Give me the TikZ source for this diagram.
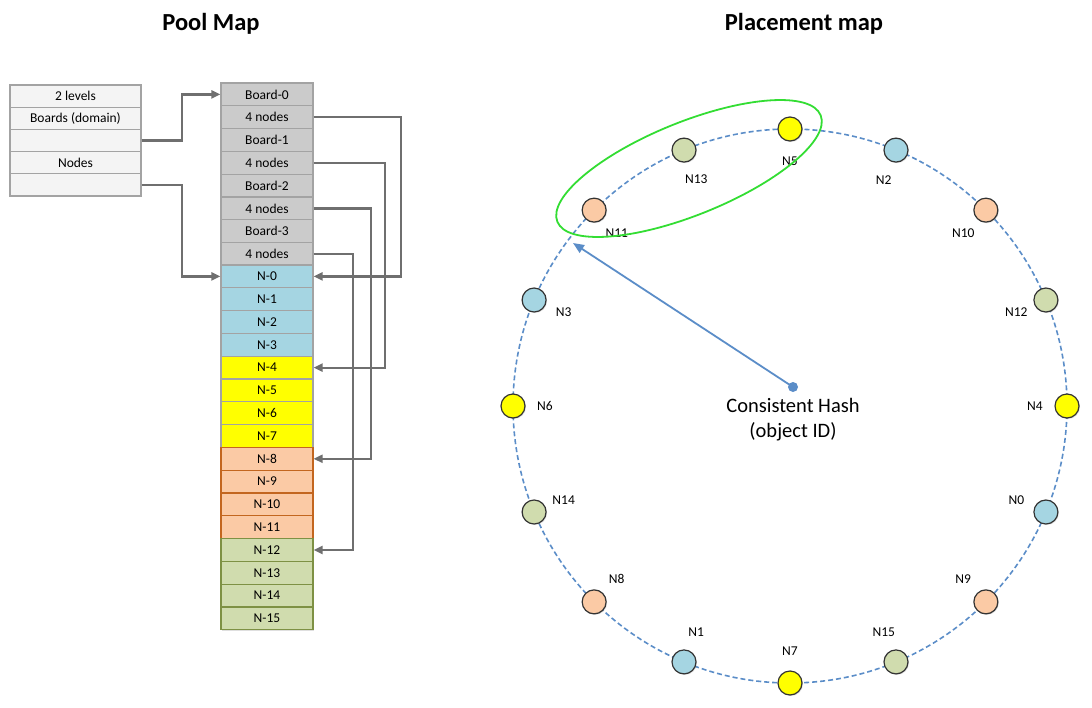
\documentclass[tikz,border=0pt]{standalone}
\usepackage{fontspec}
\setmainfont{Carlito}
\usetikzlibrary{arrows.meta,shadows}

\definecolor{cellline}{HTML}{A3A3A3}
\definecolor{cellgray}{HTML}{CBCBCB}
\definecolor{keyfill}{HTML}{F4F4F4}
\definecolor{nodeblue}{HTML}{A5D5E2}
\definecolor{nodeyellow}{HTML}{FFFF00}
\definecolor{nodeorange}{HTML}{FBCAA5}
\definecolor{nodegreen}{HTML}{D0DCAE}
\definecolor{orangeline}{HTML}{C3661F}
\definecolor{greenline}{HTML}{7E9144}
\definecolor{linkgray}{HTML}{6F6F6F}
\definecolor{ringblue}{HTML}{5B8DC8}
\definecolor{selgreen}{HTML}{33DD33}

\tikzset{
  cell/.style={draw=cellline, fill=#1, line width=1.2pt, minimum width=92pt,
    minimum height=22.8pt, inner sep=0pt, font=\fontsize{13.5}{15}\selectfont,
    drop shadow={shadow xshift=1.2pt, shadow yshift=-1.2pt, opacity=0.25}},
  keycell/.style={cell=keyfill, minimum width=131pt, minimum height=22.2pt},
  link/.style={draw=linkgray, line width=2.2pt, -{Triangle[length=9pt,width=8pt]}},
  ringnode/.style={circle, draw=black!80, fill=#1, line width=1.2pt,
    minimum size=24pt, inner sep=0pt,
    drop shadow={shadow xshift=1pt, shadow yshift=-1pt, opacity=0.25}},
  ringlabel/.style={font=\fontsize{13.5}{15}\selectfont, inner sep=0pt},
  title/.style={font=\fontsize{24.5}{28}\selectfont\bfseries}
}

\begin{document}
\begin{tikzpicture}[x=1pt, y=-1pt]
\useasboundingbox (0,0) rectangle (1092,707);

% titles
\node[title] (pooltitle) at (211,24) {Pool Map};
\node[title] (placetitle) at (804,24) {Placement map};

% pool map header
\node[keycell] (lvl) at (75.5,96.1) {2 levels};
\node[keycell] (dom) at (75.5,118.3) {Boards (domain)};
\node[keycell] (domptr) at (75.5,140.5) {};
\node[keycell] (nds) at (75.5,162.7) {Nodes};
\node[keycell] (ndsptr) at (75.5,184.9) {};

% boards
\foreach \i in {0,...,3} {
  \node[cell=cellgray] (brd\i) at (267,{94.4+45.6*\i}) {Board-\i};
  \node[cell=cellgray] (cnt\i) at (267,{117.2+45.6*\i}) {4 nodes};
}

% nodes
\foreach \col/\bdr [count=\g from 0] in {nodeblue/cellline, nodeyellow/cellline,
    nodeorange/orangeline, nodegreen/greenline} {
  \foreach \j in {0,...,3} {
    \pgfmathtruncatemacro\n{4*\g+\j}
    \node[cell=\col, draw=\bdr] (pn\n) at (267,{276.4+22.8*\n}) {N-\n};
  }
}

% pointers
\draw[link] (domptr.east) -- ++(40,0) |- (brd0.west);
\draw[link] (ndsptr.east) -- ++(40,0) |- (pn0.west);
\draw[link] (cnt0.east) -- ++(87,0) |- (pn0.east);
\draw[link] (cnt1.east) -- ++(71,0) |- (pn4.east);
\draw[link] (cnt2.east) -- ++(57,0) |- (pn8.east);
\draw[link] (cnt3.east) -- ++(39,0) |- (pn12.east);

% placement ring
\coordinate (hub) at (790,406);
\draw[ringblue, line width=1.6pt, dash pattern=on 5pt off 3pt] (hub) circle[radius=277];

\foreach \a/\n/\col in {90/5/nodeyellow, 112.5/13/nodegreen, 135/11/nodeorange,
    157.5/3/nodeblue, 180/6/nodeyellow, 202.5/14/nodegreen, 225/8/nodeorange,
    247.5/1/nodeblue, 270/7/nodeyellow, 292.5/15/nodegreen, 315/9/nodeorange,
    337.5/0/nodeblue, 0/4/nodeyellow, 22.5/12/nodegreen, 45/10/nodeorange,
    67.5/2/nodeblue} {
  \node[ringnode=\col] (rn\n) at ({790+277*cos(\a)},{406-277*sin(\a)}) {};
  \node[ringlabel] (rl\n) at ({790+245*cos(\a)},{406-245*sin(\a)}) {N\n};
}

% selected replicas
\draw[selgreen, line width=1.8pt, rotate around={22:(689,168.5)}]
  (689,168.5) ellipse[x radius=142, y radius=46.5];

% hash pointer
\coordinate (hash) at (793,387);
\coordinate (hit) at (573,243);
\fill[ringblue] (hash) circle[radius=5];
\draw[ringblue, line width=1.8pt, -{Triangle[length=11pt,width=9pt]}] (hash) -- (hit);
\node[font=\fontsize{20.5}{25}\selectfont, align=center] (hashtext) at (793,420)
  {Consistent Hash\\(object ID)};

\end{tikzpicture}
\end{document}
